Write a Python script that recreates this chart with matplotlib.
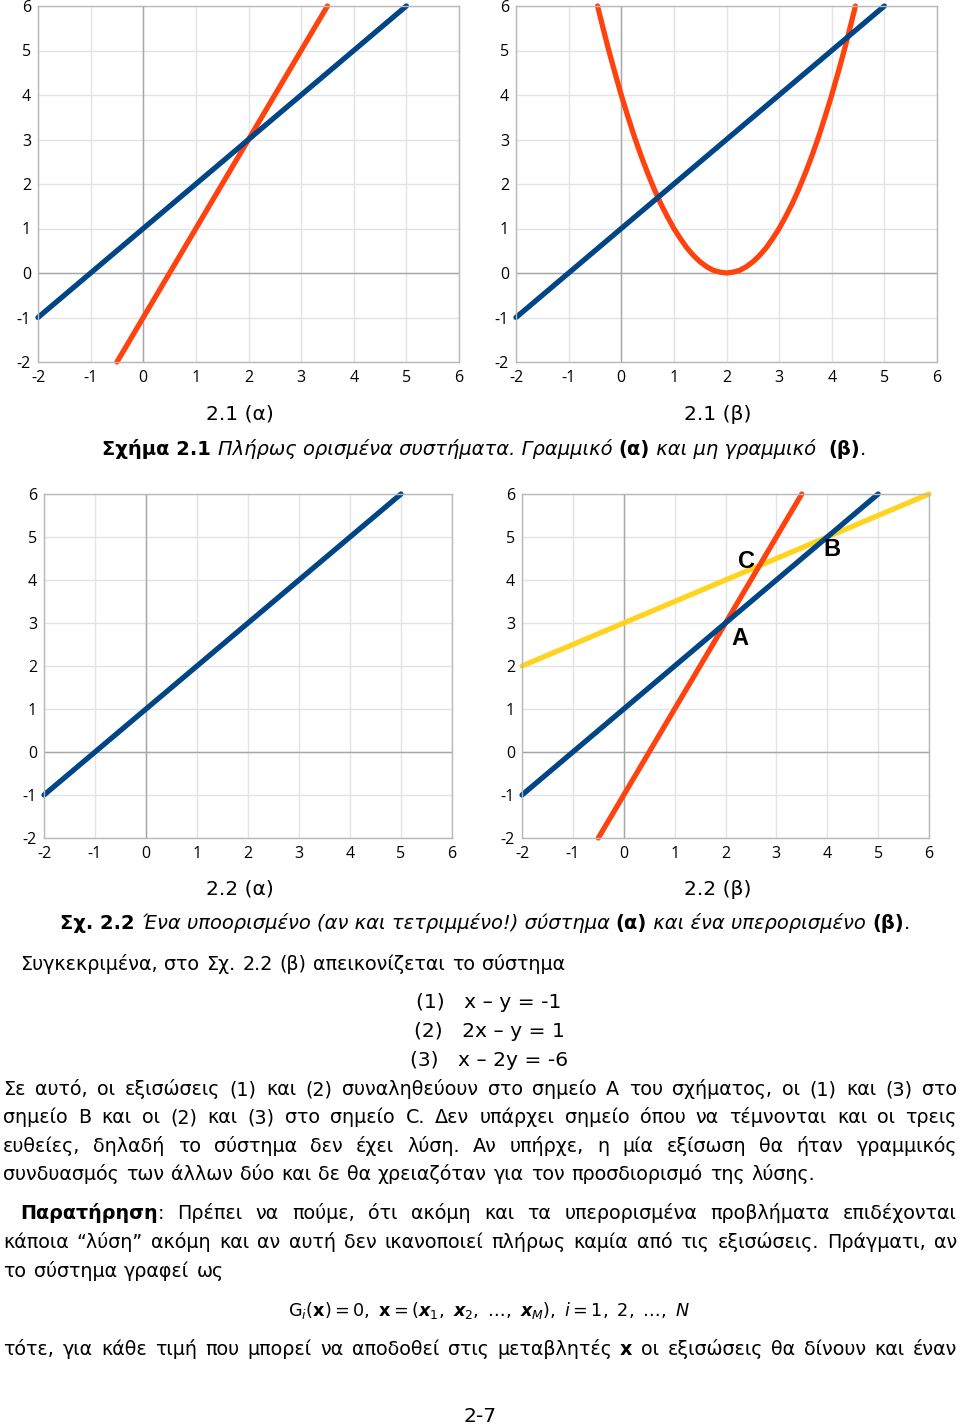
import matplotlib
matplotlib.use("Agg")
import matplotlib.pyplot as plt

# --- data ---
xlim = (-2, 6)
ylim = (-2, 6)
ticks = [-2, -1, 0, 1, 2, 3, 4, 5, 6]

# x - y = -1
line1_x = [-2, 5]
line1_y = [-1, 6]
# 2x - y = 1
line2_x = [-0.5, 3.5]
line2_y = [-2, 6]
# x - 2y = -6
line3_x = [-2, 6]
line3_y = [2, 6]
# parabola of fig 2.1 (b)
para_x = [-0.45, -0.375, -0.25, -0.125, 0, 0.125, 0.25, 0.375, 0.5, 0.625,
          0.75, 0.875, 1, 1.125, 1.25, 1.375, 1.5, 1.625, 1.75, 1.875, 2,
          2.125, 2.25, 2.375, 2.5, 2.625, 2.75, 2.875, 3, 3.125, 3.25, 3.375,
          3.5, 3.625, 3.75, 3.875, 4, 4.125, 4.25, 4.375, 4.45]
para_y = [6.0, 5.64, 5.06, 4.52, 4.0, 3.52, 3.06, 2.64, 2.25, 1.89,
          1.56, 1.27, 1.0, 0.77, 0.56, 0.39, 0.25, 0.14, 0.06, 0.02, 0.0,
          0.02, 0.06, 0.14, 0.25, 0.39, 0.56, 0.77, 1.0, 1.27, 1.56, 1.89,
          2.25, 2.64, 3.06, 3.52, 4.0, 4.52, 5.06, 5.64, 6.0]

point_names = ["A", "B", "C"]
point_x = [2.28, 4.1, 2.42]
point_y = [2.65, 4.72, 4.44]

BLUE = "#004586"
ORANGE = "#ff420e"
YELLOW = "#ffd320"

W, H = 960, 1425
FS = 13.8      # body text
LFS = 14.6     # sub-figure labels, equations
CFS = 14.0     # figure captions
plt.rcParams['font.family'] = ['DejaVu Sans']
plt.rcParams['mathtext.fontset'] = 'custom'
plt.rcParams['mathtext.rm'] = 'DejaVu Sans'
plt.rcParams['mathtext.it'] = 'DejaVu Sans:italic'
plt.rcParams['mathtext.bf'] = 'DejaVu Sans:bold'
plt.rcParams['mathtext.bfit'] = 'DejaVu Sans:italic:bold'
plt.rcParams['mathtext.default'] = 'rm'
plt.rcParams['lines.solid_capstyle'] = 'round'

fig = plt.figure(figsize=(W / 100, H / 100), dpi=100)
fig.patch.set_facecolor("white")


def make_axes(left, right, top, bottom):
    ax = fig.add_axes([left / W, 1 - bottom / H, (right - left) / W, (bottom - top) / H])
    ax.set_xlim(*xlim)
    ax.set_ylim(*ylim)
    ax.set_xticks(ticks)
    ax.set_yticks(ticks)
    ax.set_xticklabels([str(t) for t in ticks])
    ax.set_yticklabels([str(t) for t in ticks])
    ax.tick_params(length=0, labelsize=11.5, labelcolor="black")
    ax.tick_params(axis="x", pad=6)
    ax.tick_params(axis="y", pad=5)
    for lab in ax.get_xticklabels() + ax.get_yticklabels():
        lab.set_family("Open Sans")
    ax.grid(True, color="#e3e3e3", lw=1)
    ax.axhline(0, color="#a6a6a6", lw=1, zorder=1)
    ax.axvline(0, color="#a6a6a6", lw=1, zorder=1)
    for s in ax.spines.values():
        s.set_color("#b8b8b8")
        s.set_linewidth(1)
    ax.set_axisbelow(True)
    return ax


lw = 3.8
ax1 = make_axes(38, 459, 6, 362)
ax1.plot(line2_x, line2_y, color=ORANGE, lw=lw, clip_on=False)
ax1.plot(line1_x, line1_y, color=BLUE, lw=lw, clip_on=False)

ax2 = make_axes(516, 937, 6, 362)
ax2.plot(para_x, para_y, color=ORANGE, lw=lw, clip_on=False, solid_joinstyle="round")
ax2.plot(line1_x, line1_y, color=BLUE, lw=lw, clip_on=False)

ax3 = make_axes(44, 452, 494, 838)
ax3.plot(line1_x, line1_y, color=BLUE, lw=lw, clip_on=False)

ax4 = make_axes(522, 929, 494, 838)
ax4.plot(line3_x, line3_y, color=YELLOW, lw=lw, clip_on=False)
ax4.plot(line2_x, line2_y, color=ORANGE, lw=lw, clip_on=False)
ax4.plot(line1_x, line1_y, color=BLUE, lw=lw, clip_on=False)
for n, px, py in zip(point_names, point_x, point_y):
    ax4.text(px, py, n, fontsize=17, fontweight="bold", family="Liberation Sans",
             ha="center", va="center")

renderer = fig.canvas.get_renderer()


def put(x, y, s, weight="normal", style="normal", ha="left", size=FS):
    return fig.text(x / W, 1 - y / H, s, fontsize=size, fontweight=weight,
                    fontstyle=style, ha=ha, va="baseline")


def width(t):
    return t.get_window_extent(renderer).width


def runs(x, y, parts, ha="left", size=CFS):
    # parts: list of (text, weight, style)
    texts = [put(0, y, s, w, st, size=size) for s, w, st in parts]
    ws = [width(t) for t in texts]
    if ha == "center":
        x = x - sum(ws) / 2
    for t, w in zip(texts, ws):
        t.set_x(x / W)
        x += w


def justify(y, words, left=3, right=957):
    # words: list of words, each a list of (text, weight) pieces
    placed = []
    for word in words:
        pieces = [put(0, y, s, w) for s, w in word]
        placed.append((pieces, [width(p) for p in pieces]))
    total = sum(sum(ws) for _, ws in placed)
    gap = (right - left - total) / (len(words) - 1)
    x = left
    for pieces, ws in placed:
        for p, w in zip(pieces, ws):
            p.set_x(x / W)
            x += w
        x += gap


def plain(line, bold=()):
    return [[(w, "bold" if w in bold else "normal")] for w in line.split()]


# subfigure labels and captions
put(240, 420, "2.1 (α)", ha="center", size=LFS)
put(718, 420, "2.1 (β)", ha="center", size=LFS)
runs(484, 455, [("Σχήμα 2.1 ", "bold", "normal"),
                ("Πλήρως ορισμένα συστήματα. Γραμμικό ", "normal", "italic"),
                ("(α)", "bold", "normal"),
                (" και μη γραμμικό  ", "normal", "italic"),
                ("(β)", "bold", "normal"),
                (".", "normal", "normal")], ha="center")

put(240, 895, "2.2 (α)", ha="center", size=LFS)
put(718, 895, "2.2 (β)", ha="center", size=LFS)
runs(485, 929, [("Σχ. 2.2 ", "bold", "normal"),
                ("Ένα υποορισμένο (αν και τετριμμένο!) σύστημα ", "normal", "italic"),
                ("(α)", "bold", "normal"),
                (" και ένα υπερορισμένο ", "normal", "italic"),
                ("(β)", "bold", "normal"),
                (".", "normal", "normal")], ha="center")

justify(970, plain("Συγκεκριμένα, στο Σχ. 2.2 (β) απεικονίζεται το σύστημα"), left=20, right=565)
put(489, 1008, "(1)   x – y = -1", ha="center", size=LFS)
put(489, 1037, "(2)   2x – y = 1", ha="center", size=LFS)
put(489, 1066, "(3)   x – 2y = -6", ha="center", size=LFS)

justify(1095, plain("Σε αυτό, οι εξισώσεις (1) και (2) συναληθεύουν στο σημείο A του σχήματος, οι (1) και (3) στο"))
justify(1123, plain("σημείο B  και οι (2) και (3) στο σημείο C. Δεν υπάρχει σημείο όπου να τέμνονται και οι τρεις"))
justify(1152, plain("ευθείες, δηλαδή το σύστημα δεν έχει λύση. Αν υπήρχε, η μία εξίσωση θα ήταν γραμμικός"))
justify(1180, plain("συνδυασμός των άλλων δύο και δε θα χρειαζόταν για τον προσδιορισμό της λύσης."), right=815)

justify(1219, [[("Παρατήρηση", "bold"), (":", "normal")]]
        + plain("Πρέπει να πούμε, ότι ακόμη και τα υπερορισμένα προβλήματα επιδέχονται"),
        left=20)
justify(1248, plain("κάποια “λύση” ακόμη και αν αυτή δεν ικανοποιεί πλήρως καμία από τις εξισώσεις. Πράγματι, αν"))
justify(1277, plain("το σύστημα γραφεί ως"), right=224)

put(489, 1316, r"$\mathrm{G}_{\mathit{i}}(\mathbf{x}) = 0,\ \mathbf{x} = (\mathbfit{x}_{1},\ \mathbfit{x}_{2},\ \ldots,\ \mathbfit{x}_{\mathit{M}}),\ \mathit{i} = 1,\ 2,\ \ldots,\ \mathit{N}$",
    ha="center", size=12.7)

justify(1355, plain("τότε, για κάθε τιμή που μπορεί να αποδοθεί στις μεταβλητές x  οι εξισώσεις θα δίνουν και έναν",
                    bold=("x",)))
put(480, 1422, "2-7", ha="center", size=LFS)

fig.savefig("out.png", dpi=100, facecolor="white")
